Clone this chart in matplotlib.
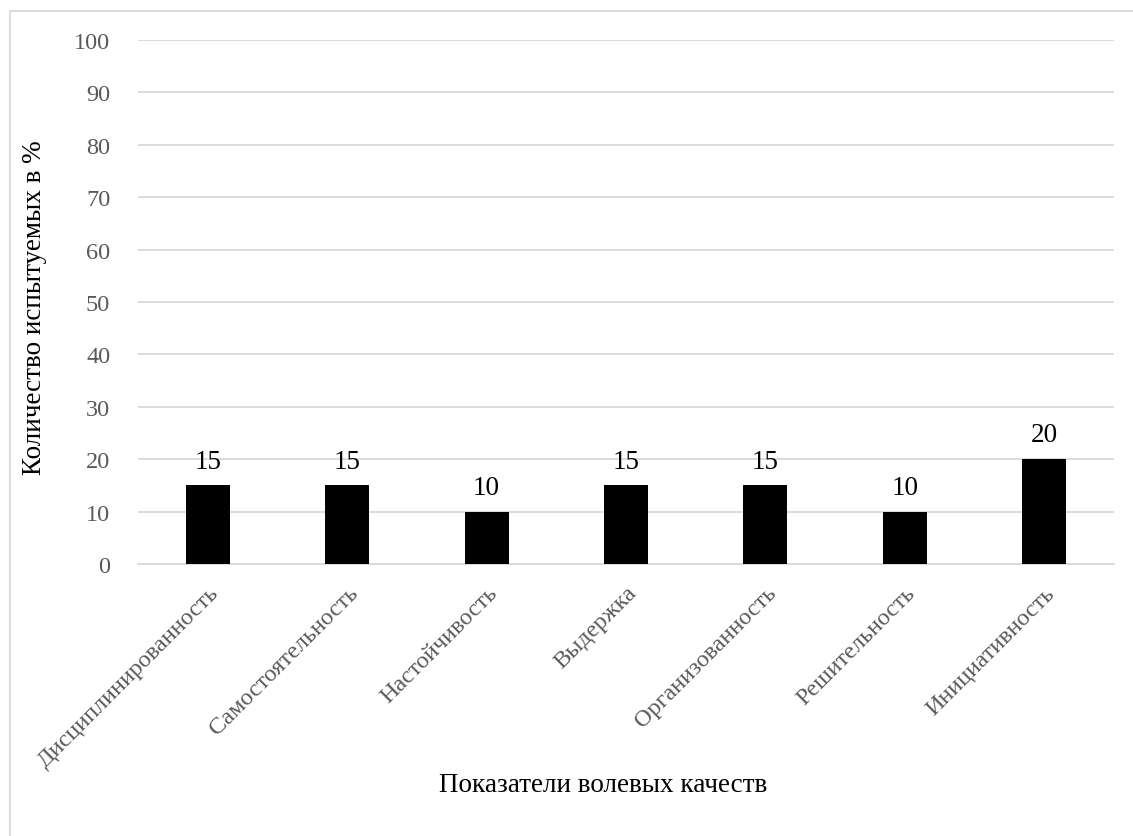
import matplotlib
matplotlib.use('Agg')
from matplotlib import pyplot as plt
from matplotlib.patches import Rectangle
import numpy as np

categories = ['Дисциплинированность', 'Самостоятельность', 'Настойчивость',
              'Выдержка', 'Организованность', 'Решительность', 'Инициативность']
values = [15, 15, 10, 15, 15, 10, 20]
yticks = list(range(0, 101, 10))

plt.rcParams['font.family'] = ['Liberation Serif', 'DejaVu Serif']

fig = plt.figure(figsize=(11.33, 8.37), dpi=100)
ax = fig.add_axes([138/1133, 1 - 565/837, 976/1133, (565 - 41)/837])

x = np.arange(len(categories))
bars = ax.bar(x, values, width=0.316, color='black', zorder=3)
for b, v in zip(bars, values):
    ax.text(b.get_x() + b.get_width()/2, v + 3.4, str(v), ha='center', va='baseline',
            fontsize=19.5, color='black')

ax.set_xlim(-0.5, len(categories) - 0.5)
ax.set_ylim(0, 100)
ax.set_yticks(yticks)
ax.set_yticklabels([str(t) for t in yticks], fontsize=17.5, color='#595959')
ax.set_xticks(x)
ax.set_xticklabels(categories, rotation=45, ha='right', rotation_mode='anchor',
                   fontsize=17.5, color='#595959')
ax.tick_params(axis='both', length=0)
ax.tick_params(axis='y', pad=20)
ax.tick_params(axis='x', pad=13)
ax.grid(axis='y', color='#d9d9d9', linewidth=1.3, zorder=0)
for s in ['top', 'right', 'left']:
    ax.spines[s].set_visible(False)
ax.spines['bottom'].set_color('#d9d9d9')
ax.spines['bottom'].set_linewidth(1.3)

fig.text(603/1133, 1 - 786/837, 'Показатели волевых качеств', ha='center', va='center',
         fontsize=19.5, color='black')
fig.text(35/1133, 1 - 308/837, 'Количество испытуемых в %', ha='center', va='center',
         rotation=90, fontsize=19.5, color='black')

# chart frame: only top and left edges fall inside the picture
fig.patches.append(Rectangle((9.5/1133, -0.05), 1.2, 1 - 12/837 + 0.05,
                             transform=fig.transFigure, fill=False,
                             edgecolor='#d9d9d9', linewidth=1.3))

fig.savefig('out.png', dpi=100)
